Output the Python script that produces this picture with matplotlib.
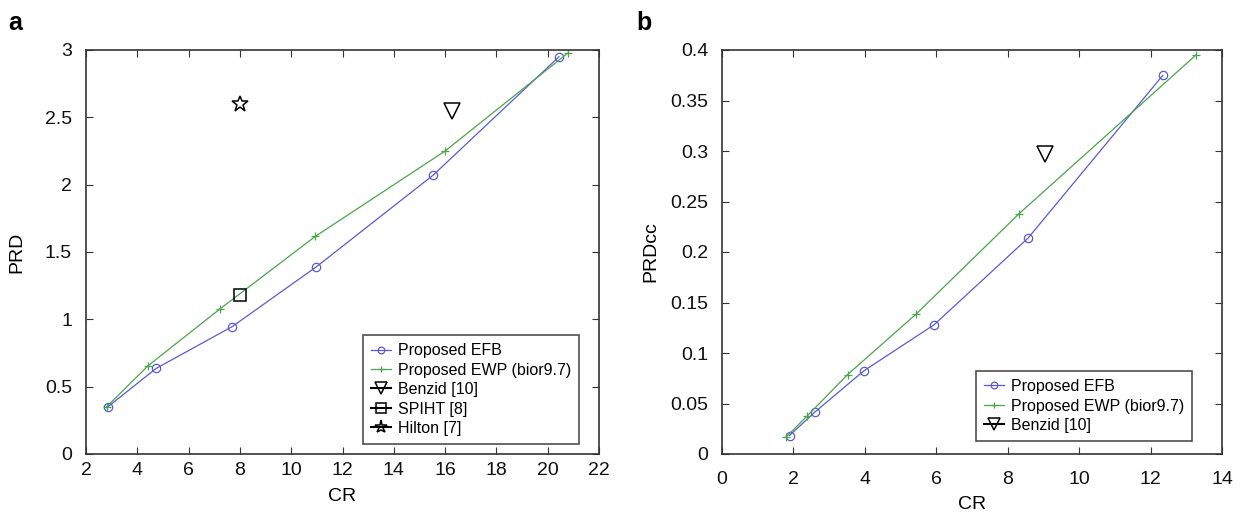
import matplotlib
matplotlib.use("Agg")
import matplotlib.pyplot as plt

plt.rcParams['font.family'] = ['Liberation Sans', 'DejaVu Sans']

# Panel a data
a_efb_cr = [2.85, 4.73, 7.70, 10.98, 15.53, 20.44]
a_efb_prd = [0.35, 0.635, 0.946, 1.39, 2.07, 2.95]
a_ewp_cr = [2.80, 4.43, 7.22, 10.94, 16.0, 20.8]
a_ewp_prd = [0.35, 0.657, 1.077, 1.616, 2.25, 2.98]
a_benzid = (16.26, 2.55)
a_spiht = (8.02, 1.18)
a_hilton = (8.0, 2.60)
a_xticks = [2, 4, 6, 8, 10, 12, 14, 16, 18, 20, 22]
a_yticks = [0, 0.5, 1, 1.5, 2, 2.5, 3]
a_yticklabels = ['0', '0.5', '1', '1.5', '2', '2.5', '3']

# Panel b data
b_efb_cr = [1.89, 2.60, 3.97, 5.94, 8.57, 12.34]
b_efb_prd = [0.0183, 0.0415, 0.0823, 0.128, 0.2138, 0.3748]
b_ewp_cr = [1.79, 2.38, 3.52, 5.43, 8.32, 13.27]
b_ewp_prd = [0.0166, 0.0375, 0.0787, 0.1384, 0.238, 0.395]
b_benzid = (9.05, 0.297)
b_xticks = [0, 2, 4, 6, 8, 10, 12, 14]
b_yticks = [0, 0.05, 0.1, 0.15, 0.2, 0.25, 0.3, 0.35, 0.4]
b_yticklabels = ['0', '0.05', '0.1', '0.15', '0.2', '0.25', '0.3', '0.35', '0.4']

blue = '#5a5ad8'
green = '#4aa54a'
axcol = '#333333'

fig = plt.figure(figsize=(12.58, 5.18), dpi=100)
W, H = 1258, 518

def px_axes(l, r, t, b):
    return fig.add_axes([l / W, 1 - b / H, (r - l) / W, (b - t) / H])

axa = px_axes(86, 599, 50, 454)
axb = px_axes(722, 1222, 50, 454)

def style(ax, xpad):
    for s in ax.spines.values():
        s.set_color(axcol)
        s.set_linewidth(1.2)
    ax.tick_params(direction='in', top=True, right=True, length=5, width=0.8,
                   colors=axcol, labelcolor='#111111', labelsize=14)
    ax.tick_params(axis='y', pad=10)
    ax.tick_params(axis='x', pad=xpad)

def legend(ax, rgap, bgap, w, h):
    lg = ax.legend(loc='lower right', bbox_to_anchor=(1 - rgap / w, bgap / h), borderaxespad=0,
                   fontsize=11.5, frameon=True, fancybox=False, handlelength=1.3,
                   handletextpad=0.4, labelspacing=0.28, borderpad=0.5, markerscale=0.8)
    lg.get_frame().set_edgecolor('#222222')
    lg.get_frame().set_linewidth(1.2)

# Panel a
axa.plot(a_efb_cr, a_efb_prd, '-o', color=blue, lw=0.9, ms=6, mfc='none', mew=0.9,
         label='Proposed EFB')
axa.plot(a_ewp_cr, a_ewp_prd, '-+', color=green, lw=0.9, ms=6, mew=0.9,
         label='Proposed EWP (bior9.7)')
axa.plot([a_benzid[0]], [a_benzid[1]], '-v', color='black', ms=11, mfc='none', mew=1.1,
         label='Benzid [10]')
axa.plot([a_spiht[0]], [a_spiht[1]], '-s', color='black', ms=9, mfc='none', mew=1.1,
         label='SPIHT [8]')
axa.plot([a_hilton[0]], [a_hilton[1]], '-*', color='black', ms=12, mfc='none', mew=1.1,
         label='Hilton [7]')
axa.set_xlim(2, 22)
axa.set_ylim(0, 3)
axa.set_xticks(a_xticks)
axa.set_yticks(a_yticks)
axa.set_yticklabels(a_yticklabels)
axa.set_xlabel('CR', fontsize=14, labelpad=6)
axa.set_ylabel('PRD', fontsize=14, labelpad=14)
style(axa, 6)
legend(axa, 20, 10, 513, 404)

# Panel b
axb.plot(b_efb_cr, b_efb_prd, '-o', color=blue, lw=0.9, ms=6, mfc='none', mew=0.9,
         label='Proposed EFB')
axb.plot(b_ewp_cr, b_ewp_prd, '-+', color=green, lw=0.9, ms=6, mew=0.9,
         label='Proposed EWP (bior9.7)')
axb.plot([b_benzid[0]], [b_benzid[1]], '-v', color='black', ms=11, mfc='none', mew=1.1,
         label='Benzid [10]')
axb.set_xlim(0, 14)
axb.set_ylim(0, 0.4)
axb.set_xticks(b_xticks)
axb.set_yticks(b_yticks)
axb.set_yticklabels(b_yticklabels)
axb.set_xlabel('CR', fontsize=14, labelpad=6)
axb.set_ylabel('PRDcc', fontsize=14, labelpad=8)
style(axb, 12)
legend(axb, 30, 13, 500, 404)

fig.text(8 / W, 1 - 30 / H, 'a', fontsize=18, fontweight='bold', va='baseline', ha='left')
fig.text(636 / W, 1 - 30 / H, 'b', fontsize=18, fontweight='bold', va='baseline', ha='left')

fig.savefig('out.png', dpi=100)
